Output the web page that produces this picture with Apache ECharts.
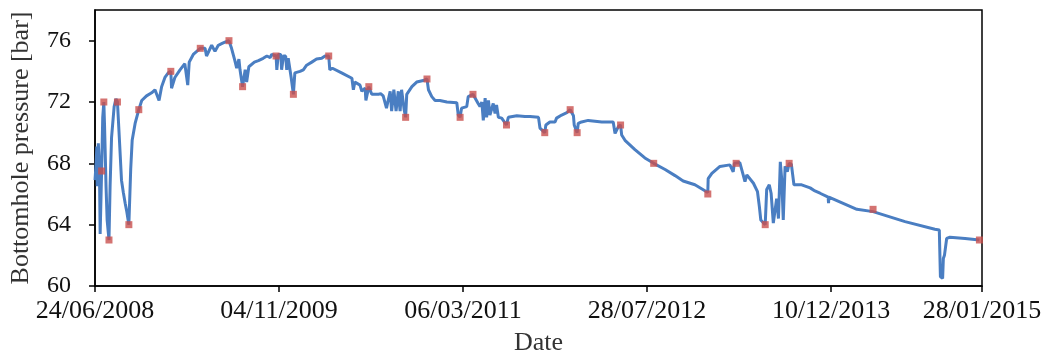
<!DOCTYPE html>
<html>
<head>
<meta charset="utf-8">
<script src="https://cdn.jsdelivr.net/npm/echarts@6/dist/echarts.min.js"></script>
<style>
html,body{margin:0;padding:0;background:#fff;}
#chart{width:1050px;height:356px;}
</style>
</head>
<body>
<div id="chart"></div>
<script>
// x: sample index along the (text) date axis; y: bottomhole pressure [bar]
var sampleIndex = [0,3,5,6,9,12,14,18,21,24,26,30,33,38,41,45,52,57,61,66,72,77,82,86,92,97,101,109,119,127,140,154,163,174,181,190,199,206,208,217,231,244,252,256,267,286,299,303,317,326,335,344,353,364,371,380,385,391,394,401,408,412,418,433,444,457,467,476,480,492,494,498,505,507,512,518,521,525,533,539,543,557,566,575,589,602,616,625,635,638,645,670,698,702,706,720,725,734,736,744,752,770,776,783,788,792,794,802,806,812,818,824,829,833,840,844,847,861,874,892,902,906,915,924,937,956,983,987,992,996,1010,1014,1027,1033,1041,1046,1051,1055,1060,1064,1069,1073,1082,1087,1091,1096,1105,1118,1123,1146,1168,1182,1205,1209,1222,1225,1236,1250,1254,1268,1282,1291,1300,1302,1310,1313,1322,1340,1377,1408,1413,1417,1422,1428,1431,1440,1467,1494,1518,1549,1576,1598,1630,1665,1666,1676,1698,1725,1734,1737,1742,1752,1760,1766,1771,1789,1800,1805,1809,1814,1821,1825,1832,1837,1843,1848,1852,1857,1862,1866,1870,1875,1881,1886,1892,1899,1920,1943,1956,1970,1992,1993,1994,2070,2114,2201,2282,2294,2297,2303,2305,2308,2314,2323,2364,2403];
var pressure = [66.9,68.0,69.1,66.5,69.3,67.8,63.4,67.5,71.0,72.0,70.4,66.5,64.3,63.0,66.5,69.7,71.7,72.2,72.0,69.7,66.9,66.1,65.4,64.9,64.0,67.6,69.5,70.6,71.5,72.1,72.4,72.6,72.8,72.1,73.0,73.6,73.9,74.0,72.9,73.6,74.1,74.5,73.1,74.6,75.1,75.5,75.5,75.0,75.7,75.3,75.7,75.8,75.9,76.0,75.5,74.7,74.2,74.8,74.1,73.0,74.1,73.3,74.3,74.6,74.7,74.85,75.0,74.9,75.1,75.0,74.1,75.1,75.1,74.1,75.0,75.0,74.1,74.85,73.6,72.5,73.9,74.0,74.1,74.4,74.6,74.8,74.85,75.0,75.0,74.1,74.2,73.9,73.55,72.8,73.3,73.1,72.7,72.9,72.1,73.0,72.5,72.5,72.55,72.4,72.3,71.6,71.5,72.7,71.4,72.8,71.4,72.7,71.4,72.8,71.5,71.0,72.5,73.0,73.3,73.4,73.5,72.8,72.35,72.1,72.1,72.0,71.95,71.15,71.0,71.6,71.7,72.35,72.5,72.25,71.9,71.7,72.0,70.8,72.25,71.0,72.1,71.15,71.9,71.25,71.8,71.0,70.95,70.5,71.0,71.1,71.05,71.05,71.0,70.3,70.0,70.5,70.7,70.7,70.95,71.15,71.3,71.5,71.1,70.5,70.0,70.6,70.7,70.8,70.7,70.7,69.95,69.85,70.4,70.5,69.85,69.5,68.9,68.35,68.0,67.6,67.2,66.85,66.6,66.1,67.0,67.35,67.8,67.9,67.45,68.0,68.0,68.05,67.35,66.8,67.25,66.7,66.15,65.2,64.3,64.2,64.0,66.3,66.6,66.05,64.1,64.0,65.7,64.4,68.1,66.9,64.3,67.8,67.45,68.0,67.95,66.6,66.6,66.4,66.2,66.05,65.8,65.4,65.8,65.0,64.85,64.2,63.7,63.65,60.6,60.5,61.8,62.0,63.1,63.18,63.1,63.0];

// red square markers
var markerIndex = [18,24,38,61,92,119,206,286,364,401,492,539,635,744,844,902,992,1027,1118,1222,1291,1310,1428,1518,1665,1742,1821,1886,2114,2403];
var markerPressure = [67.5,72,63,72,64,71.5,74,75.5,76,73,75,72.5,75,73,71,73.5,71,72.5,70.5,70,71.5,70,70.5,68,66,68,64,68,65,63];

// axis ticks
var xTickIndex = [0,500,1000,1500,2000,2410];
var xTickLabels = ['24/06/2008','04/11/2009','06/03/2011','28/07/2012','10/12/2013','28/01/2015'];
var yTicks = [60,64,68,72,76];

var lineData = sampleIndex.map(function(x,i){return [x,pressure[i]];});
var markData = markerIndex.map(function(x,i){return [x,markerPressure[i]];});

var chart = echarts.init(document.getElementById('chart'), null, {renderer:'canvas'});
var serif = '"Liberation Serif","Times New Roman",serif';
chart.setOption({
  animation:false,
  backgroundColor:'#fff',
  grid:{left:95,right:68,top:10,bottom:70,show:true,borderColor:'#000',borderWidth:1.5,
        containLabel:false,outerBoundsMode:'none'},
  xAxis:{
    type:'value',min:0,max:2410,
    name:'Date',nameLocation:'middle',nameGap:44,
    nameTextStyle:{fontFamily:serif,fontSize:26,color:'#333'},
    axisLine:{show:true,lineStyle:{color:'#000',width:1.5}},
    axisTick:{show:true,inside:false,length:6,lineStyle:{color:'#000',width:1.5},customValues:xTickIndex},
    axisLabel:{customValues:xTickIndex,margin:12,fontFamily:serif,fontSize:26,color:'#111',
      formatter:function(v){var k=xTickIndex.indexOf(v);return k>=0?xTickLabels[k]:'';}},
    splitLine:{show:false}
  },
  yAxis:{
    type:'value',min:60,max:78,interval:4,
    name:'Bottomhole pressure [bar]',nameLocation:'middle',nameGap:61,
    nameTextStyle:{fontFamily:serif,fontSize:26,color:'#333'},
    axisLine:{show:true,lineStyle:{color:'#000',width:1.5}},
    axisTick:{show:true,inside:false,length:6,lineStyle:{color:'#000',width:1.5},customValues:yTicks},
    axisLabel:{customValues:yTicks,margin:24,fontFamily:serif,fontSize:24,color:'#111'},
    splitLine:{show:false}
  },
  series:[
    {type:'line',data:lineData,showSymbol:false,symbol:'none',
     lineStyle:{color:'#4A7EC2',width:3},z:2},
    {type:'scatter',data:markData,symbol:'rect',symbolSize:7,
     itemStyle:{color:'#C9504D'},z:3}
  ]
});
</script>
</body>
</html>
